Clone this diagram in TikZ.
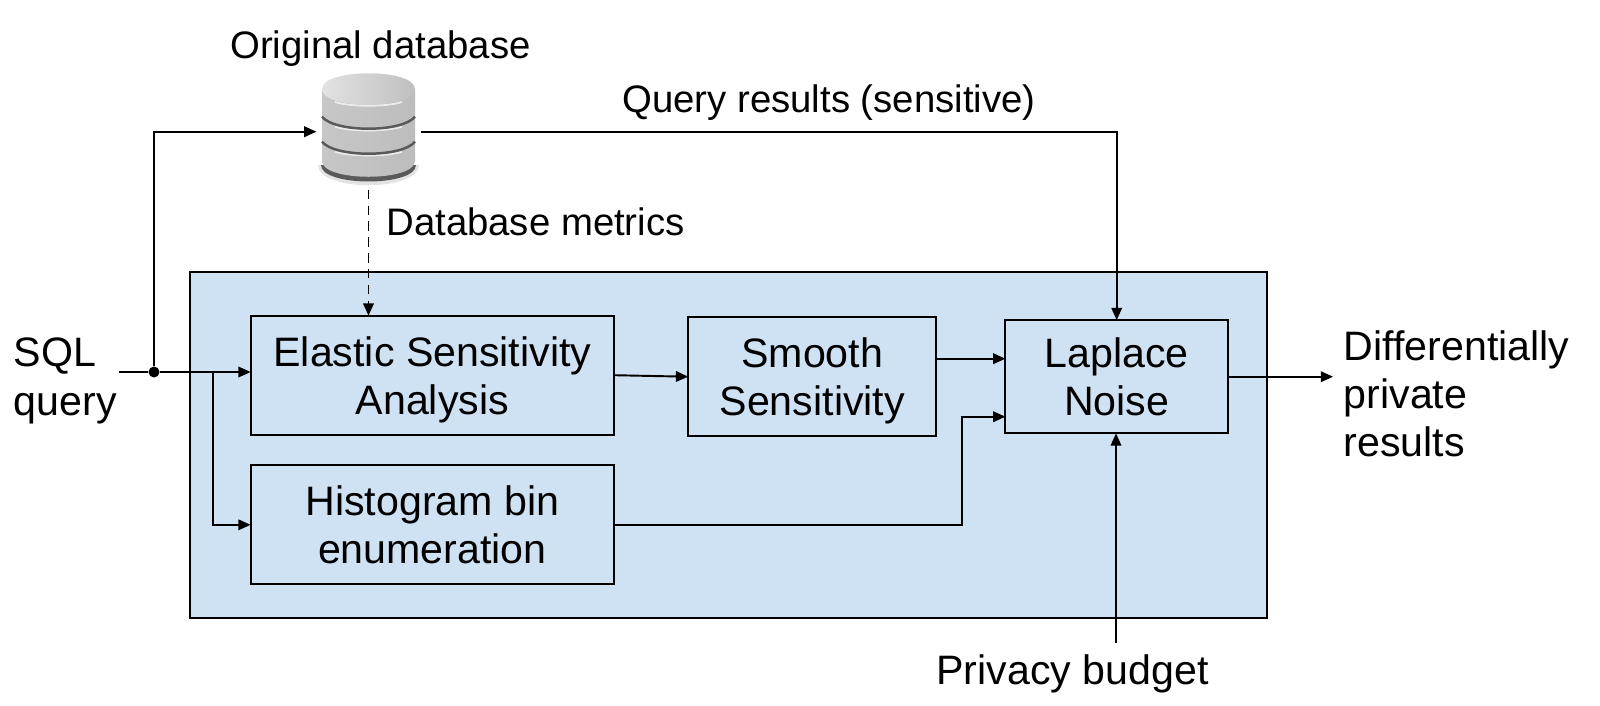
\documentclass[tikz,border=0pt]{standalone}
\usepackage{fontspec}
\setmainfont{Liberation Sans}
\definecolor{cPanel}{HTML}{CFE2F3}
\definecolor{cDbTop}{HTML}{E2E2E2}
\definecolor{cDbBand}{HTML}{5A5A5A}
\usetikzlibrary{arrows.meta,positioning,calc}

\begin{document}
\begin{tikzpicture}[
  x=0.01cm,y=-0.01cm,
  font=\fontsize{11.7}{13.7}\selectfont,
  block/.style={draw=black,fill=cPanel,line width=0.55pt,outer sep=0pt,inner sep=0pt,
    minimum height=1.19cm,align=center,text depth=0pt},
  lab/.style={inner sep=0pt,align=left},
  labs/.style={lab,font=\fontsize{10.9}{13}\selectfont},
  fwd/.style={-{Triangle[length=3.5pt,width=3pt]},black,line width=0.55pt},
  ret/.style={fwd,dash pattern=on 2.7pt off 1.8pt}]
\useasboundingbox (0,0) rectangle (1600,705);
% blue panel
\node[draw=black,fill=cPanel,line width=0.55pt,outer sep=0pt,inner sep=0pt,
  minimum width=10.76cm,minimum height=3.46cm] (panel) at (728.3,445.2) {};
% boxes
\node[block,minimum width=3.633cm] (elastic) at (432.4,375.2) {Elastic Sensitivity\\Analysis};
\node[block,minimum width=2.48cm,right=0.74cm of elastic,yshift=-0.015cm] (smooth) {Smooth\\Sensitivity};
\node[block,minimum width=2.225cm,minimum height=1.132cm,right=0.69cm of smooth] (laplace) {Laplace\\Noise};
\node[block,minimum width=3.633cm,below=0.305cm of elastic] (hist) {Histogram bin\\enumeration};
% database
\node[minimum width=1.04cm,minimum height=1.16cm,inner sep=0pt,outer sep=0pt] (db) at (368.5,131.7) {};
\fill[gray!22] (318,165) .. controls (318,192) and (419,192) .. (419,165) -- cycle;
\fill[cDbBand] (321,165) .. controls (321,187) and (416,187) .. (416,165) -- cycle;
\shade[left color=gray!44,middle color=gray!14,right color=gray!52]
  (322,89) -- (322,161) .. controls (322,182) and (415,182) .. (415,161) -- (415,89) -- cycle;
\shade[left color=cDbTop,right color=gray!50]
  (322,89) .. controls (322,68) and (415,68) .. (415,89) .. controls (415,110) and (322,110) .. (322,89) -- cycle;
\foreach \yband in {116.7,141.7}{
  \draw[white!85!gray,line width=0.5pt] (335,\yband+10) .. controls (350,\yband+15) and (387,\yband+15) .. (402,\yband+10);
  \draw[cDbBand,line width=0.7pt] (322,\yband) .. controls (335,\yband+16) and (402,\yband+16) .. (415,\yband);
}
\draw[white!85!gray,line width=0.5pt] (335,102) .. controls (350,107) and (387,107) .. (402,102);
% labels
\node[labs] (dbname) at (380.5,49) {Original database};
\node[labs] (qres) at (829,103) {Query results (sensitive)};
\node[labs,anchor=west] (dbmet) at (385.7,222) {Database metrics};
\node[lab,anchor=west,font=\fontsize{11.7}{14}\selectfont] (sql) at (13,381) {SQL\\query};
\node[lab,anchor=west] (dp) at (1343,394) {Differentially\\private\\results};
\node[lab] (budget) at (1072.6,674) {Privacy budget};
% connectors
\coordinate (sqlin) at (119,372);
\coordinate (elin) at ([yshift=0.032cm]elastic.west);
\coordinate (branch) at (212.7,372);
\coordinate (lapb) at ([yshift=-0.4cm]laplace.west);
\coordinate (dpout) at ($(laplace.east)+(1.05cm,0)$);
\coordinate (budgetin) at (1116,643);
\node[circle,fill=black,inner sep=0pt,minimum size=0.11cm] (junction) at (154,372) {};
\draw[black,line width=0.55pt] (sqlin) -- (junction);
\draw[fwd] (junction) -- (elin);
\draw[fwd] (branch) |- (hist.west);
\draw[fwd] (junction) |- (db.west);
\draw[fwd] (db.east) -| (laplace.north);
\draw[ret] (db.south) -- (db.south |- elastic.north);
\draw[fwd] (elastic.east) -- (smooth.west);
\draw[fwd] ([yshift=0.18cm]smooth.east) -- ([yshift=0.18cm]laplace.west);
\draw[fwd] (hist.east) -| ([xshift=-0.43cm]lapb) -- (lapb);
\draw[fwd] (laplace.east) -- (dpout);
\draw[fwd] (budgetin) -- (budgetin |- laplace.south);
\end{tikzpicture}
\end{document}
